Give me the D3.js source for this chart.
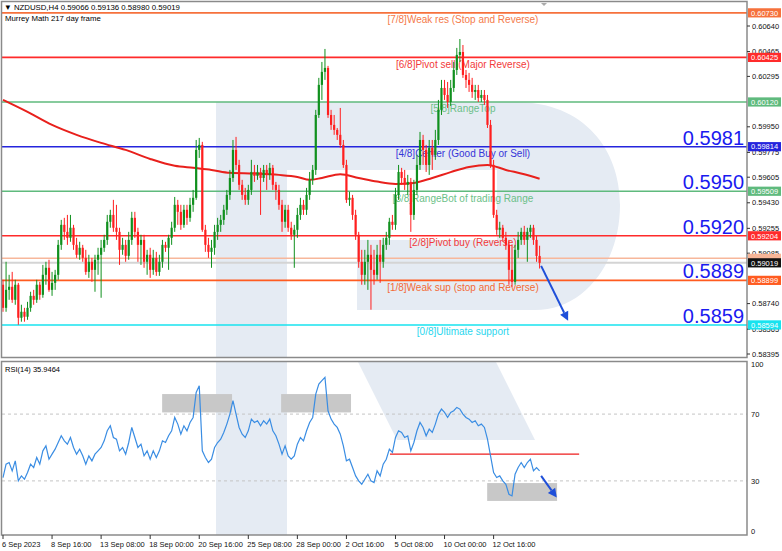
<!DOCTYPE html>
<html><head><meta charset="utf-8">
<script src="https://cdn.jsdelivr.net/npm/d3@7"></script>
<style>
body{margin:0;background:#fff}
svg{display:block}
text{font-family:"Liberation Sans",Arial,sans-serif}
</style>
</head><body>
<svg id="c" width="782" height="551"></svg>
<script>
// ---------------- DATA ----------------
const symbolHeader = "\u25BC NZDUSD,H4  0.59066 0.59136 0.58980 0.59019";
const indicatorName = "Murrey Math 217 day frame";
const rsiHeader = "RSI(14) 35.9464";

const opens = [0.58869,0.58711,0.58834,0.58855,0.58766,0.58869,0.58643,0.58684,0.58650,0.58711,
0.58793,0.58766,0.58869,0.58800,0.58937,0.58985,0.58834,0.58882,0.58937,0.59142,
0.59279,0.59231,0.59190,0.59259,0.59142,0.59074,0.59122,0.59053,0.58957,0.59026,
0.58971,0.59040,0.59074,0.59122,0.59176,0.59300,0.59347,0.59259,0.59231,0.59108,
0.59142,0.59067,0.59176,0.59327,0.59231,0.59142,0.59176,0.59026,0.59074,0.58971,
0.59053,0.58957,0.59026,0.59142,0.59122,0.59190,0.59259,0.59416,0.59368,0.59279,
0.59382,0.59327,0.59416,0.59464,0.59792,0.59826,0.59245,0.59142,0.59094,0.59122,
0.59231,0.59279,0.59313,0.59382,0.59484,0.59600,0.59792,0.59689,0.59553,0.59484,
0.59450,0.59518,0.59641,0.59614,0.59641,0.59600,0.59655,0.59621,0.59669,0.59553,
0.59518,0.59416,0.59300,0.59382,0.59259,0.59211,0.59245,0.59347,0.59416,0.59382,
0.59484,0.59587,0.59655,0.60031,0.60237,0.60326,0.60353,0.60031,0.59963,0.59929,
0.59895,0.59826,0.59689,0.59450,0.59464,0.59347,0.59211,0.59026,0.58937,0.59026,
0.59074,0.58971,0.58937,0.59074,0.59026,0.59142,0.59190,0.59300,0.59279,0.59484,
0.59641,0.59600,0.59553,0.59573,0.59347,0.59518,0.59689,0.59860,0.59792,0.59689,
0.59806,0.59758,0.59860,0.60066,0.60216,0.60168,0.60120,0.60216,0.60339,0.60442,
0.60462,0.60305,0.60271,0.60237,0.60189,0.60202,0.60148,0.60168,0.60134,0.59963,
0.59689,0.59347,0.59245,0.59259,0.59190,0.59142,0.58971,0.58889,0.59108,0.59176,
0.59231,0.59176,0.59231,0.59259,0.59176,0.59066];

const highs = [0.58903,0.59026,0.58937,0.58957,0.58903,0.58882,0.58732,0.58711,0.58752,0.58821,
0.58834,0.58903,0.58889,0.59005,0.59026,0.59040,0.58957,0.58971,0.59176,0.59313,
0.59327,0.59347,0.59347,0.59279,0.59190,0.59163,0.59142,0.59108,0.59074,0.59053,
0.59074,0.59122,0.59176,0.59211,0.59347,0.59382,0.59450,0.59416,0.59259,0.59190,
0.59176,0.59231,0.59368,0.59368,0.59259,0.59211,0.59211,0.59108,0.59122,0.59108,
0.59094,0.59074,0.59176,0.59163,0.59211,0.59300,0.59470,0.59450,0.59416,0.59416,
0.59416,0.59464,0.59518,0.59860,0.59874,0.59847,0.59279,0.59190,0.59176,0.59279,
0.59327,0.59347,0.59416,0.59518,0.59655,0.59860,0.59881,0.59724,0.59587,0.59532,
0.59553,0.59724,0.59689,0.59689,0.59669,0.59689,0.59689,0.59703,0.59689,0.59573,
0.59553,0.59450,0.59416,0.59416,0.59300,0.59279,0.59395,0.59464,0.59450,0.59532,
0.59641,0.59689,0.60066,0.60285,0.60394,0.60483,0.60367,0.60066,0.60031,0.59942,
0.60079,0.59860,0.59724,0.59505,0.59484,0.59382,0.59231,0.59108,0.59108,0.59176,
0.59142,0.59108,0.59142,0.59176,0.59190,0.59231,0.59327,0.59347,0.59532,0.59689,
0.59669,0.59655,0.59621,0.59600,0.59587,0.59758,0.59915,0.59895,0.59826,0.59860,
0.59860,0.59929,0.60134,0.60271,0.60271,0.60257,0.60271,0.60394,0.60490,0.60551,
0.60510,0.60339,0.60319,0.60285,0.60237,0.60237,0.60202,0.60202,0.60168,0.59997,
0.59724,0.59382,0.59300,0.59279,0.59231,0.59176,0.59142,0.59142,0.59231,0.59259,
0.59272,0.59259,0.59279,0.59279,0.59204,0.59136];

const lows = [0.58684,0.58684,0.58766,0.58745,0.58732,0.58595,0.58616,0.58616,0.58629,0.58684,
0.58732,0.58745,0.58766,0.58780,0.58869,0.58821,0.58793,0.58834,0.58903,0.59108,
0.59176,0.59142,0.59163,0.59108,0.59053,0.59040,0.59026,0.58937,0.58916,0.58889,
0.58821,0.58937,0.58780,0.59094,0.59142,0.59259,0.59231,0.59176,0.59005,0.59074,
0.59026,0.59040,0.59142,0.59190,0.59026,0.59005,0.58985,0.58937,0.58916,0.58937,
0.58930,0.58930,0.58985,0.59094,0.58971,0.59142,0.59231,0.59279,0.59245,0.59259,
0.59279,0.59300,0.59368,0.59450,0.59737,0.59231,0.59094,0.59053,0.58985,0.59074,
0.59176,0.59231,0.59279,0.59347,0.59450,0.59573,0.59655,0.59518,0.59450,0.59416,
0.59416,0.59484,0.59573,0.59587,0.59347,0.59573,0.59518,0.59587,0.59518,0.59450,
0.59382,0.59231,0.59259,0.59231,0.59176,0.58985,0.59190,0.59313,0.59347,0.59347,
0.59450,0.59553,0.59621,0.60011,0.60134,0.60271,0.60011,0.59929,0.59895,0.59860,
0.59806,0.59669,0.59429,0.59409,0.59313,0.59176,0.58985,0.58869,0.58869,0.58834,
0.58698,0.58869,0.58903,0.58882,0.58985,0.59108,0.59142,0.59245,0.59245,0.59450,
0.59553,0.59518,0.59484,0.59231,0.59313,0.59484,0.59655,0.59689,0.59641,0.59621,
0.59655,0.59724,0.59826,0.60031,0.60134,0.60079,0.60093,0.60189,0.60305,0.60394,
0.60285,0.60216,0.60189,0.60148,0.60134,0.60120,0.60120,0.60100,0.59942,0.59669,
0.59327,0.59211,0.59190,0.59163,0.59108,0.58869,0.58855,0.58869,0.59053,0.59142,
0.59142,0.59026,0.59190,0.59142,0.59026,0.58980];

const closes = [0.58711,0.58834,0.58855,0.58766,0.58869,0.58643,0.58684,0.58650,0.58711,0.58793,
0.58766,0.58869,0.58800,0.58937,0.58985,0.58834,0.58882,0.58937,0.59142,0.59279,
0.59231,0.59190,0.59259,0.59142,0.59074,0.59122,0.59053,0.58957,0.59026,0.58971,
0.59040,0.59074,0.59122,0.59176,0.59300,0.59347,0.59259,0.59231,0.59108,0.59142,
0.59067,0.59176,0.59327,0.59231,0.59142,0.59176,0.59026,0.59074,0.58971,0.59053,
0.58957,0.59026,0.59142,0.59122,0.59190,0.59259,0.59416,0.59368,0.59279,0.59382,
0.59327,0.59416,0.59464,0.59792,0.59826,0.59245,0.59142,0.59094,0.59122,0.59231,
0.59279,0.59313,0.59382,0.59484,0.59600,0.59792,0.59689,0.59553,0.59484,0.59450,
0.59518,0.59641,0.59614,0.59641,0.59600,0.59655,0.59621,0.59669,0.59553,0.59518,
0.59416,0.59300,0.59382,0.59259,0.59211,0.59245,0.59347,0.59416,0.59382,0.59484,
0.59587,0.59655,0.60031,0.60237,0.60326,0.60353,0.60031,0.59963,0.59929,0.59895,
0.59826,0.59689,0.59450,0.59464,0.59347,0.59211,0.59026,0.58937,0.59026,0.59074,
0.58971,0.58937,0.59074,0.59026,0.59142,0.59190,0.59300,0.59279,0.59484,0.59641,
0.59600,0.59553,0.59573,0.59347,0.59518,0.59689,0.59860,0.59792,0.59689,0.59806,
0.59758,0.59860,0.60066,0.60216,0.60168,0.60120,0.60216,0.60339,0.60442,0.60462,
0.60305,0.60271,0.60237,0.60189,0.60202,0.60148,0.60168,0.60134,0.59963,0.59689,
0.59347,0.59245,0.59259,0.59190,0.59142,0.58971,0.58889,0.59108,0.59176,0.59231,
0.59176,0.59231,0.59259,0.59176,0.59066,0.59019];

// 217-period moving average, sampled at candle indices
const maIndex = [0,8,16,24,32,40,48,56,62,68,74,82,90,96,100,104,110,116,122,128,134,140,146,152,158,164,170,175];
const maValues = [0.60134,0.60052,0.59963,0.59895,0.59840,0.59792,0.59730,0.59683,0.59669,0.59655,0.59635,0.59630,0.59621,0.59607,0.59587,0.59600,0.59625,0.59600,0.59575,0.59559,0.59566,0.59600,0.59640,0.59675,0.59689,0.59655,0.59625,0.59594];

const rsiValues = [32,40,41,36,42,30,33,31,35,40,
38,44,40,48,51,43,46,49,53,57,
54,52,56,50,46,49,45,40,45,42,
46,48,50,54,60,63,56,55,48,50,
46,53,62,56,50,52,45,48,43,48,
44,48,54,53,57,60,68,64,58,63,
60,65,68,83,87,48,44,41,43,50,
53,55,59,64,70,78,70,62,58,56,
60,67,65,66,63,66,64,67,60,57,
52,46,51,45,43,45,52,56,54,60,
65,68,82,88,90,92,72,67,64,62,
58,51,42,43,38,33,30,28,31,34,
30,29,36,33,40,43,49,47,56,60,
59,56,57,48,53,60,65,62,57,61,
59,64,70,73,71,68,71,72,74,73,
70,68,67,65,66,63,64,62,55,45,
35,32,33,30,28,22,21,34,38,41,
38,41,43,36,38,35.95];

const levelPrices = [0.60730,0.60425,0.60120,0.59814,0.59509,0.59204,0.58899,0.58594];
const levelNames = ["[7/8]Weak res (Stop and Reverse)","[6/8]Pivot sell (Major Reverse)","[5/8]RangeTop",
  "[4/8]Center (Good Buy or Sell)","[3/8]RangeBot of trading Range","[2/8]Pivot buy (Reverse)",
  "[1/8]Weak sup (stop and Reverse)","[0/8]Ultimate support"];
const levelLabels = ["0.60730","0.60425","0.60120","0.59814","0.59509","0.59204","0.58899","0.58594"];
const bigLabels = ["0.5981","0.5950","0.5920","0.5889","0.5859"];
const bigLabelPrices = [0.59814,0.59509,0.59204,0.58899,0.58594];
const priceTicks = [0.60640,0.60465,0.60295,0.59950,0.59775,0.59605,0.59430,0.59255,0.59085,0.58740,0.58565,0.58395];
const rsiTicks = [100,70,30,0];
const dateLabels = ["6 Sep 2023","8 Sep 16:00","13 Sep 08:00","18 Sep 00:00","20 Sep 16:00","25 Sep 08:00","28 Sep 00:00","2 Oct 16:00","5 Oct 08:00","10 Oct 00:00","12 Oct 16:00"];
const dateIndex = [0,16,32,48,64,80,96,112,128,144,160];
const bidPrice = 0.59019, askLinePrice = 0.59050;
const rsiLevelLine = 46;

// ---------------- STYLE ----------------
const levelColors = ["#f6713c","#ff2b2b","#5fba7d","#2525dd","#5fba7d","#ff2b2b","#ff5b20","#17e3ef"];
const levelTextColors = ["#f57a4a","#f23a3a","#6cbf88","#3535d8","#6cbf88","#f23a3a","#f36a36","#2ad6ee"];
const svg = d3.select("#c");

const x = d3.scaleLinear().domain([0,175]).range([3, 539.6]);
const y = d3.scaleLinear().domain([0.58395,0.60640]).range([354,26]);
const yr = d3.scaleLinear().domain([0,100]).range([531,364]);

// clip paths
const defs = svg.append("defs");
defs.append("clipPath").attr("id","cm").append("rect").attr("x",2).attr("y",2).attr("width",745).attr("height",355);
defs.append("clipPath").attr("id","cr").append("rect").attr("x",2).attr("y",362).attr("width",745).attr("height",173);

// watermark (background logo)
const wmColor = "#e5ebf3";
svg.append("path").attr("clip-path","url(#cm)").attr("fill",wmColor)
  .attr("d","M216,102 H515 C585,102 620,150 620,205 C620,262 585,310 535,310 H357 V240 H497 V170 H287 V360 H216 Z");
const wr = svg.append("g").attr("clip-path","url(#cr)");
wr.append("rect").attr("x",216).attr("y",360).attr("width",71).attr("height",180).attr("fill",wmColor);
wr.append("path").attr("fill",wmColor).attr("d","M357,360 H495 L535,440 H397 Z");

// ---------------- MAIN PANEL ----------------
const gm = svg.append("g").attr("clip-path","url(#cm)");

gm.append("line").attr("x1",2).attr("x2",747).attr("y1",y(askLinePrice)).attr("y2",y(askLinePrice))
  .attr("stroke","#f7b79b").attr("stroke-width",1.5);
gm.append("line").attr("x1",2).attr("x2",747).attr("y1",y(bidPrice)).attr("y2",y(bidPrice))
  .attr("stroke","#d4d4d4").attr("stroke-width",2);

levelPrices.forEach((p,i)=>{
  gm.append("line").attr("x1",2).attr("x2",747).attr("y1",y(p)).attr("y2",y(p))
    .attr("stroke",levelColors[i]).attr("stroke-width",1.6);
  gm.append("text").attr("x",x(150)).attr("y",y(p)+10.5).attr("text-anchor","middle")
    .attr("font-size",10).attr("fill",levelTextColors[i]).text(levelNames[i]);
});

gm.append("path").datum(maIndex.map((d,i)=>[d,maValues[i]]))
  .attr("fill","none").attr("stroke","#e8201c").attr("stroke-width",2)
  .attr("d",d3.line().x(d=>x(d[0])).y(d=>y(d[1])).curve(d3.curveMonotoneX));

const up = "#10901e", dn = "#ff1f1f";
const cg = gm.append("g");
closes.forEach((c,i)=>{
  const o = opens[i], col = c>=o ? up : dn;
  const xi = x(i);
  cg.append("line").attr("x1",xi).attr("x2",xi).attr("y1",y(highs[i])).attr("y2",y(lows[i]))
    .attr("stroke",col).attr("stroke-width",1);
  const top = y(Math.max(o,c)), bot = y(Math.min(o,c));
  cg.append("rect").attr("x",xi-1.1).attr("width",2.2).attr("y",top).attr("height",Math.max(1,bot-top)).attr("fill",col);
});

bigLabels.forEach((t,i)=>{
  svg.append("text").attr("x",744).attr("y",y(bigLabelPrices[i])-2).attr("text-anchor","end")
    .attr("font-size",20).attr("fill","#1a1af0").text(t);
});

function arrow(g,x1,y1,x2,y2,col){
  const a = Math.atan2(y2-y1,x2-x1), L=9, Wd=4.5;
  const bx = x2 - L*Math.cos(a), by = y2 - L*Math.sin(a);
  g.append("line").attr("x1",x1).attr("y1",y1).attr("x2",bx).attr("y2",by).attr("stroke",col).attr("stroke-width",2);
  g.append("path").attr("fill",col).attr("d",
    `M${x2},${y2} L${bx+Wd*Math.sin(a)},${by-Wd*Math.cos(a)} L${bx-Wd*Math.sin(a)},${by+Wd*Math.cos(a)} Z`);
}
arrow(svg, x(175.5), y(0.58998), x(184.3), y(0.58622), "#1f4fd9");

svg.append("text").attr("x",4).attr("y",9.5).attr("font-size",7.8).attr("fill","#000").text(symbolHeader);
svg.append("text").attr("x",5).attr("y",20.5).attr("font-size",7.8).attr("fill","#000").text(indicatorName);
svg.append("path").attr("d","M541,3 L547,3 L544,6 Z").attr("fill","#aaa");

svg.append("rect").attr("x",1.5).attr("y",1.5).attr("width",745.5).attr("height",356).attr("fill","none")
  .attr("stroke","#8a8a8a").attr("stroke-width",1.5);

// right price axis
const ax = svg.append("g");
priceTicks.forEach(p=>{
  ax.append("line").attr("x1",747).attr("x2",750).attr("y1",y(p)).attr("y2",y(p)).attr("stroke","#333");
  ax.append("text").attr("x",752).attr("y",y(p)+2.6).attr("font-size",7.5).attr("fill","#111").text(p.toFixed(5));
});
function boxLabel(p,txt,bg,fg){
  ax.append("rect").attr("x",748).attr("y",y(p)-4.6).attr("width",33).attr("height",9.2).attr("fill",bg);
  if (txt) ax.append("text").attr("x",751).attr("y",y(p)+2.7).attr("font-size",7.5).attr("fill",fg).text(txt);
}
boxLabel(askLinePrice,null,"#f7b597","#fff");
levelPrices.forEach((p,i)=>boxLabel(p,levelLabels[i],levelColors[i],"#fff"));
boxLabel(bidPrice,bidPrice.toFixed(5),"#111","#fff");

// ---------------- RSI PANEL ----------------
const gr = svg.append("g").attr("clip-path","url(#cr)");
[70,30].forEach(v=>{
  gr.append("line").attr("x1",2).attr("x2",747).attr("y1",yr(v)).attr("y2",yr(v))
    .attr("stroke","#c4c4c4").attr("stroke-dasharray","3,3");
});
const zones = [[51.9,74.7,82,71],[90.7,113.5,82,71],[157.9,180.7,28.7,18]];
zones.forEach(z=>{
  gr.append("rect").attr("x",x(z[0])).attr("width",x(z[1])-x(z[0])).attr("y",yr(z[2])).attr("height",yr(z[3])-yr(z[2]))
    .attr("fill","#c8c8c8");
});
gr.append("line").attr("x1",x(126.2)).attr("x2",x(187.9)).attr("y1",yr(rsiLevelLine)).attr("y2",yr(rsiLevelLine))
  .attr("stroke","#ee1c1c").attr("stroke-width",1.3);
gr.append("path").datum(rsiValues).attr("fill","none").attr("stroke","#3a8de3").attr("stroke-width",1.2)
  .attr("d",d3.line().x((d,i)=>x(i)).y(d=>yr(d)));
arrow(svg, x(175.5), yr(33), x(180.6), yr(20), "#1f4fd9");

svg.append("text").attr("x",5).attr("y",372).attr("font-size",7.5).attr("fill","#000").text(rsiHeader);
svg.append("rect").attr("x",1.5).attr("y",361.5).attr("width",745.5).attr("height",173.5).attr("fill","none")
  .attr("stroke","#8a8a8a").attr("stroke-width",1.5);
rsiTicks.forEach(v=>{
  svg.append("text").attr("x",751).attr("y",yr(v)+2.6).attr("font-size",7.5).attr("fill","#111").text(v);
});

dateLabels.forEach((t,i)=>{
  const xi = x(dateIndex[i]);
  svg.append("line").attr("x1",xi).attr("x2",xi).attr("y1",535).attr("y2",539).attr("stroke","#333");
  svg.append("text").attr("x",xi-1).attr("y",547).attr("font-size",7.5).attr("fill","#111").text(t);
});
</script>
</body></html>
